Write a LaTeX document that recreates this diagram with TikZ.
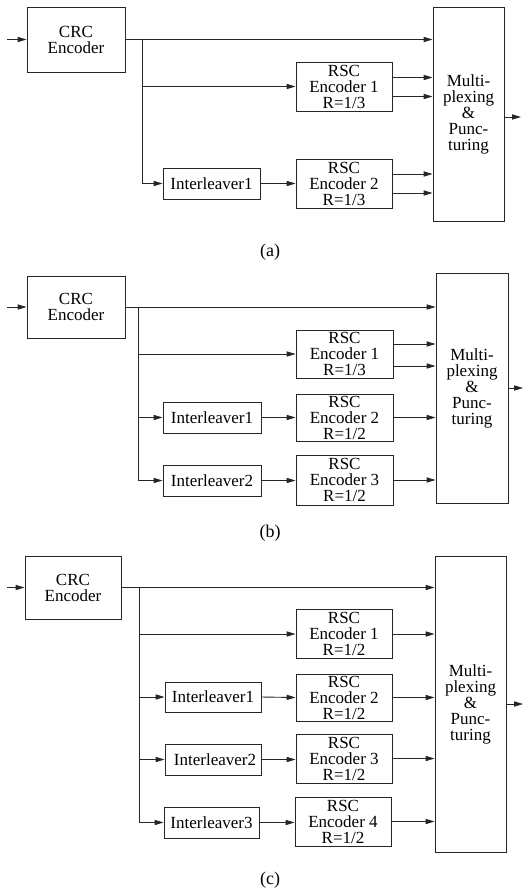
\documentclass[tikz,border=0pt]{standalone}
\usepackage{fontspec}
\setmainfont{Liberation Serif}
\usetikzlibrary{arrows.meta}
\begin{document}
\begin{tikzpicture}[x=1pt,y=-1pt,
  blk/.style={draw=black!85, line width=0.9pt, inner sep=0pt, align=center,
    font=\fontsize{17}{16}\selectfont, text=black},
  arr/.style={draw=black!85, line width=0.9pt, -{Triangle[length=9pt,width=5.2pt]}},
  subcap/.style={font=\fontsize{18}{18}\selectfont}]
\useasboundingbox (0,0) rectangle (523,894);

% ---------------- (a)
\node[blk, minimum width=98pt, minimum height=65pt] (crcA) at (76,39.5) {CRC\\Encoder};
\node[blk, minimum width=96pt, minimum height=49pt] (rscA1) at (344,86.5) {RSC\\Encoder 1\\R=1/3};
\node[blk, minimum width=97pt, minimum height=31pt] (intA1) at (211.5,183.5) {Interleaver1};
\node[blk, minimum width=96pt, minimum height=49pt] (rscA2) at (344,183.5) {RSC\\Encoder 2\\R=1/3};
\node[blk, minimum width=71pt, minimum height=214pt] (muxA) at (468.5,114) {Multi-\\plexing\\\&\\Punc-\\turing};
\coordinate (inA) at (7,39.5);
\coordinate (brA) at (142,39.5);
\coordinate (outA) at (521,117);
\draw[arr] (inA) -- (crcA.west);
\draw[arr] (crcA.east) -- (crcA.east -| muxA.west);
\draw[arr] (brA) |- (intA1.west);
\draw[arr] (brA |- rscA1.west) -- (rscA1.west);
\draw[arr] (intA1.east) -- (rscA2.west);
\draw[arr] ([yshift=9pt]rscA1.east) -- ([yshift=9pt]rscA1.east -| muxA.west);
\draw[arr] ([yshift=-10pt]rscA1.east) -- ([yshift=-10pt]rscA1.east -| muxA.west);
\draw[arr] ([yshift=9.5pt]rscA2.east) -- ([yshift=9.5pt]rscA2.east -| muxA.west);
\draw[arr] ([yshift=-9.5pt]rscA2.east) -- ([yshift=-9.5pt]rscA2.east -| muxA.west);
\draw[arr] (outA -| muxA.east) -- (outA);
\node[subcap] (labA) at (270,252) {(a)};

% ---------------- (b)
\node[blk, minimum width=98pt, minimum height=62pt] (crcB) at (76,307) {CRC\\Encoder};
\node[blk, minimum width=97pt, minimum height=48pt] (rscB1) at (344.5,354) {RSC\\Encoder 1\\R=1/3};
\node[blk, minimum width=98pt, minimum height=31pt] (intB1) at (212,417.5) {Interleaver1};
\node[blk, minimum width=97pt, minimum height=47pt] (rscB2) at (344.5,417.5) {RSC\\Encoder 2\\R=1/2};
\node[blk, minimum width=98pt, minimum height=31pt] (intB2) at (212,480.5) {Interleaver2};
\node[blk, minimum width=97pt, minimum height=50pt] (rscB3) at (344.5,480) {RSC\\Encoder 3\\R=1/2};
\node[blk, minimum width=72pt, minimum height=230pt] (muxB) at (472,388) {Multi-\\plexing\\\&\\Punc-\\turing};
\coordinate (inB) at (7,307);
\coordinate (brB) at (138,307);
\coordinate (outB) at (523,388);
\draw[arr] (inB) -- (crcB.west);
\draw[arr] (crcB.east) -- (crcB.east -| muxB.west);
\draw[arr] (brB) |- (intB2.west);
\draw[arr] (brB |- rscB1.west) -- (rscB1.west);
\draw[arr] (brB |- intB1.west) -- (intB1.west);
\draw[arr] (intB1.east) -- (rscB2.west);
\draw[arr] (intB2.east) -- (intB2.east -| rscB3.west);
\draw[arr] ([yshift=10pt]rscB1.east) -- ([yshift=10pt]rscB1.east -| muxB.west);
\draw[arr] ([yshift=-12pt]rscB1.east) -- ([yshift=-12pt]rscB1.east -| muxB.west);
\draw[arr] (rscB2.east) -- (rscB2.east -| muxB.west);
\draw[arr] (rscB3.east) -- (rscB3.east -| muxB.west);
\draw[arr] (muxB.east) -- (outB);
\node[subcap] (labB) at (270,533) {(b)};

% ---------------- (c)
\node[blk, minimum width=96pt, minimum height=63pt] (crcC) at (73,587.5) {CRC\\Encoder};
\node[blk, minimum width=96pt, minimum height=49pt] (rscC1) at (344,634) {RSC\\Encoder 1\\R=1/2};
\node[blk, minimum width=96pt, minimum height=30pt] (intC1) at (213,697) {Interleaver1};
\node[blk, minimum width=96pt, minimum height=47pt] (rscC2) at (344,697.5) {RSC\\Encoder 2\\R=1/2};
\node[blk, minimum width=96pt, minimum height=31pt] (intC2) at (213,759.5) {\hspace{4pt}Interleaver2};
\node[blk, minimum width=96pt, minimum height=49pt] (rscC3) at (344,758.5) {RSC\\Encoder 3\\R=1/2};
\node[blk, minimum width=95pt, minimum height=31pt] (intC3) at (211.5,822.5) {Interleaver3};
\node[blk, minimum width=96pt, minimum height=49pt] (rscC4) at (343,821.5) {RSC\\Encoder 4\\R=1/2};
\node[blk, minimum width=71pt, minimum height=296pt] (muxC) at (470.5,704) {Multi-\\plexing\\\&\\Punc-\\turing};
\coordinate (inC) at (7,587.5);
\coordinate (brC) at (139,587.5);
\coordinate (outC) at (523,704);
\draw[arr] (inC) -- (crcC.west);
\draw[arr] (crcC.east) -- (crcC.east -| muxC.west);
\draw[arr] (brC) |- (intC3.west);
\draw[arr] (brC |- rscC1.west) -- (rscC1.west);
\draw[arr] (brC |- intC1.west) -- (intC1.west);
\draw[arr] (brC |- intC2.west) -- (intC2.west);
\draw[arr] (intC1.east) -- (rscC2.west);
\draw[arr] (intC2.east) -- (intC2.east -| rscC3.west);
\draw[arr] (intC3.east) -- (intC3.east -| rscC4.west);
\draw[arr] (rscC1.east) -- (rscC1.east -| muxC.west);
\draw[arr] (rscC2.east) -- (rscC2.east -| muxC.west);
\draw[arr] (rscC3.east) -- (rscC3.east -| muxC.west);
\draw[arr] (rscC4.east) -- (rscC4.east -| muxC.west);
\draw[arr] (muxC.east) -- (outC);
\node[subcap] (labC) at (270,880) {(c)};
\end{tikzpicture}
\end{document}
